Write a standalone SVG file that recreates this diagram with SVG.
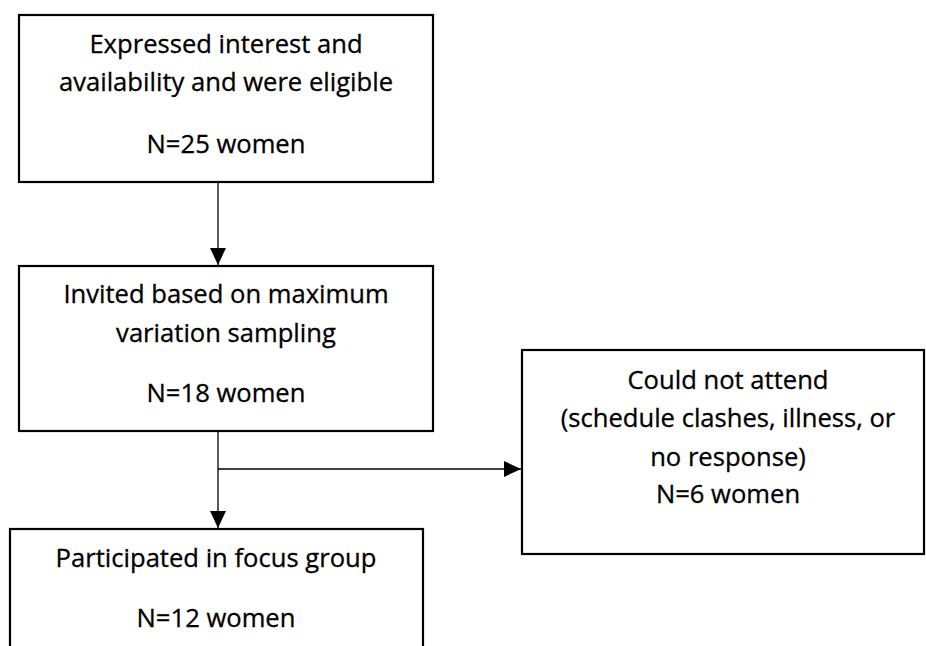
<svg xmlns="http://www.w3.org/2000/svg" width="926" height="646" viewBox="0 0 926 646">
<style>
.box{fill:#fff;stroke:#000;stroke-width:2.2}
.t{font-family:"Open Sans","Liberation Sans",sans-serif;font-size:25.6px;fill:#000;stroke:#000;stroke-width:0.3;text-anchor:middle}
.c{fill:none;stroke:#000;stroke-width:1.3}
</style>
<defs>
<marker id="ah" markerUnits="userSpaceOnUse" markerWidth="18" markerHeight="16" refX="17" refY="8" orient="auto">
<path d="M0,0 L17,8 L0,16 Z" fill="#000"/>
</marker>
</defs>
<rect width="926" height="646" fill="#fff"/>
<g id="n1">
<rect class="box" x="19" y="15" width="414" height="167"/>
<text class="t" x="226" y="53">Expressed interest and</text>
<text class="t" x="226" y="91">availability and were eligible</text>
<text class="t" x="226" y="153">N=25 women</text>
</g>
<g id="n2">
<rect class="box" x="19" y="266" width="414" height="165"/>
<text class="t" x="226" y="303">Invited based on maximum</text>
<text class="t" x="226" y="342">variation sampling</text>
<text class="t" x="226" y="402">N=18 women</text>
</g>
<g id="n3">
<rect class="box" x="522" y="350" width="402" height="204"/>
<text class="t" x="728" y="389">Could not attend</text>
<text class="t" x="728" y="427">(schedule clashes, illness, or</text>
<text class="t" x="728" y="466">no response)</text>
<text class="t" x="728" y="503">N=6 women</text>
</g>
<g id="n4">
<rect class="box" x="10" y="529" width="413" height="130"/>
<text class="t" x="216" y="567">Participated in focus group</text>
<text class="t" x="216" y="627">N=12 women</text>
</g>
<g id="connectors">
<line class="c" x1="218" y1="183" x2="218" y2="265" marker-end="url(#ah)"/>
<line class="c" x1="218" y1="432" x2="218" y2="528" marker-end="url(#ah)"/>
<line class="c" x1="218" y1="469" x2="521" y2="469" marker-end="url(#ah)"/>
</g>
</svg>
